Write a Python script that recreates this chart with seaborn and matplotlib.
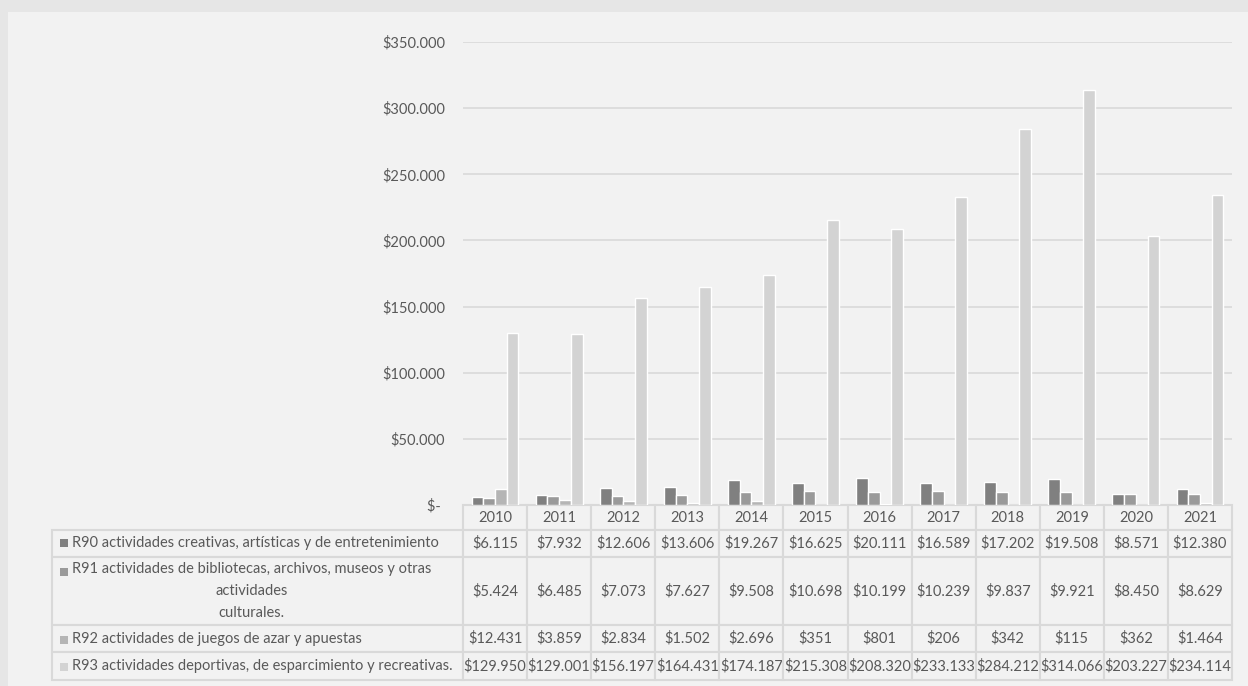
import matplotlib
matplotlib.use("Agg")
import matplotlib.pyplot as plt
import seaborn as sns
import pandas as pd
import numpy as np
from matplotlib.patches import Rectangle

# ---------------- data ----------------
years = ["2010", "2011", "2012", "2013", "2014", "2015",
         "2016", "2017", "2018", "2019", "2020", "2021"]
series_labels = [
    "R90 actividades creativas, artísticas y de entretenimiento",
    "R91 actividades de bibliotecas, archivos, museos y otras\nactividades\nculturales.",
    "R92 actividades de juegos de azar y apuestas",
    "R93 actividades deportivas, de esparcimiento y recreativas.",
]
r90 = [6115, 7932, 12606, 13606, 19267, 16625, 20111, 16589, 17202, 19508, 8571, 12380]
r91 = [5424, 6485, 7073, 7627, 9508, 10698, 10199, 10239, 9837, 9921, 8450, 8629]
r92 = [12431, 3859, 2834, 1502, 2696, 351, 801, 206, 342, 115, 362, 1464]
r93 = [129950, 129001, 156197, 164431, 174187, 215308, 208320, 233133, 284212, 314066, 203227, 234114]
all_series = [r90, r91, r92, r93]
y_ticks = [0, 50000, 100000, 150000, 200000, 250000, 300000, 350000]

colors = ["#808080", "#9a9a9a", "#b5b5b5", "#d3d3d3"]
bg = "#f2f2f2"
grid_c = "#d9d9d9"
text_c = "#595959"

rows = []
for lab, vals in zip(series_labels, all_series):
    for yr, v in zip(years, vals):
        rows.append({"year": yr, "serie": lab, "valor": v})
df = pd.DataFrame(rows)

def money(v):
    return "$" + f"{v:,}".replace(",", ".") if v != 0 else "$-"

# ---------------- figure ----------------
sns.set_theme(style="white")
plt.rcParams["font.family"] = ["Lato", "DejaVu Sans"]

W, H = 1248, 686
fig = plt.figure(figsize=(W / 100, H / 100), dpi=100)
fig.patch.set_facecolor("#e6e6e6")
fig.patches.append(Rectangle((8 / W, 0), 1, 1 - 12 / H, transform=fig.transFigure,
                             facecolor=bg, edgecolor="none", zorder=-10))

ax_l, ax_r, ax_t, ax_b = 463, 1232, 42, 505
ax_w = ax_r - ax_l
ax_h = ax_b - ax_t
ax = fig.add_axes([ax_l / W, 1 - ax_b / H, ax_w / W, ax_h / H])
ax.set_facecolor(bg)

sns.barplot(data=df, x="year", y="valor", hue="serie", palette=colors,
            width=0.73, saturation=1, ax=ax, legend=False, zorder=3)

ax.set_ylim(0, 350000)
ax.set_xlim(-0.5, len(years) - 0.5)
ax.set_yticks(y_ticks)
ax.set_yticklabels([money(v) if v else "$- " for v in y_ticks], color=text_c, fontsize=10.5)
ax.tick_params(axis="y", length=0, pad=13)
ax.set_xticks([])
ax.set_xlabel("")
ax.set_ylabel("")
ax.grid(axis="y", color=grid_c, linewidth=1.2, zorder=0)
ax.set_axisbelow(True)
for s in ax.spines.values():
    s.set_visible(False)

# ---------------- data table ----------------
label_px = 411
label_w = label_px / ax_w
col_w = 1.0 / len(years)
head_h = 25 / ax_h
row_hs = [27 / ax_h, 68 / ax_h, 27 / ax_h, 28 / ax_h]

cell_text = [[money(v) for v in s] for s in all_series]
tbl = ax.table(cellText=cell_text, rowLabels=series_labels, colLabels=years,
               colWidths=[col_w] * len(years),
               cellLoc="center", rowLoc="left", colLoc="center", loc="bottom")
tbl._autoColumns = [c for c in tbl._autoColumns if c != -1]
tbl.auto_set_font_size(False)
tbl.set_fontsize(10.5)
for (r, c), cell in tbl.get_celld().items():
    cell.set_facecolor(bg)
    cell.set_edgecolor(grid_c)
    cell.set_linewidth(1.5)
    cell.get_text().set_color(text_c)
    cell.set_width(label_w if c == -1 else col_w)
    cell.set_height(head_h if r == 0 else row_hs[r - 1])
    if c == -1:
        cell.PAD = 20 / label_px
        cell.get_text().set_multialignment("center")
        cell.get_text().set_linespacing(1.7)

# legend keys in the table
key_centers = [543, 572, 639.5, 667]
for col, yc in zip(colors, key_centers):
    fig.patches.append(Rectangle((60 / W, 1 - (yc + 4) / H), 8 / W, 8 / H,
                                 transform=fig.transFigure, facecolor=col,
                                 edgecolor="none", zorder=5))

fig.savefig("out.png", dpi=100, facecolor=fig.get_facecolor())
